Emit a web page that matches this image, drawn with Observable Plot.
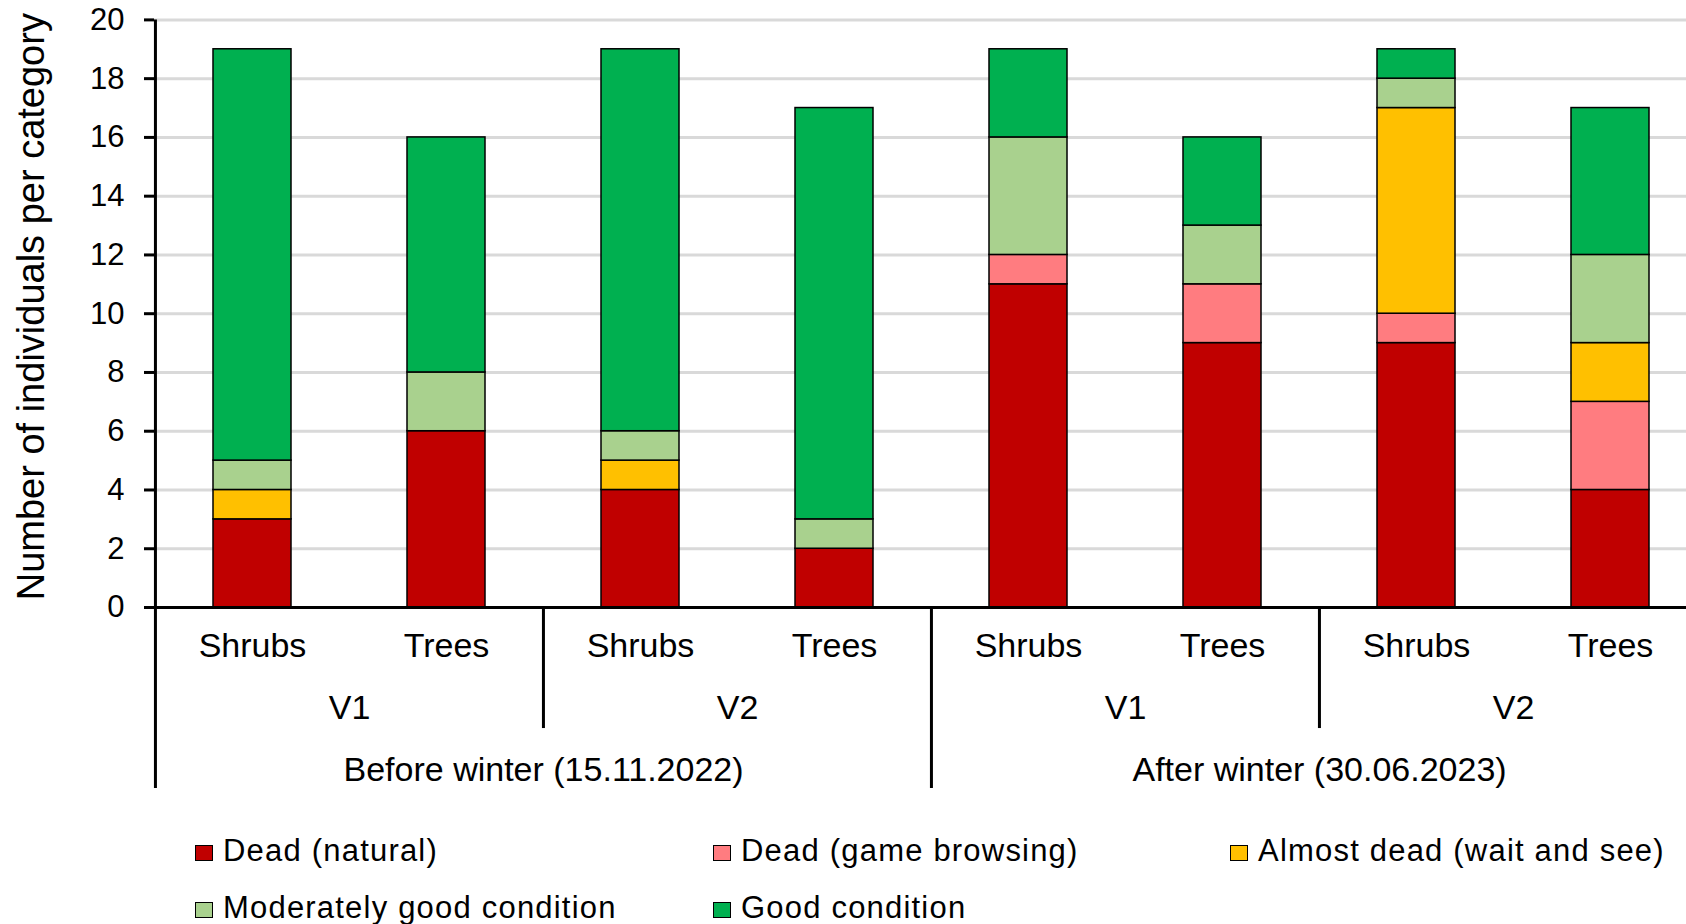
<!DOCTYPE html>
<html>
<head>
<meta charset="utf-8">
<script src="https://cdn.jsdelivr.net/npm/d3@7"></script>
<script src="https://cdn.jsdelivr.net/npm/@observablehq/plot@0.6"></script>
<style>
  html, body { margin: 0; padding: 0; background: white; }
  body { width: 1686px; height: 924px; overflow: hidden; font-family: "Liberation Sans", Arial, sans-serif; }
  #legend { display: grid; grid-template-columns: 518px 517px auto; margin-left: 195px; padding-top: 3px; font-size: 31px; letter-spacing: 1.2px; line-height: 57px; color: black; }
  #legend .sw { display: inline-block; width: 16px; height: 14px; border: 1px solid black; margin-right: 10px; }
  #legend .item { white-space: nowrap; }
</style>
</head>
<body>
<div id="chart"></div>
<div id="legend"></div>
<script>
// ---- data ----
const periods = ["Before winter (15.11.2022)", "After winter (30.06.2023)"];
const variants = ["V1", "V2"];
const plantTypes = ["Shrubs", "Trees"];
const conditions = ["Dead (natural)", "Dead (game browsing)", "Almost dead (wait and see)", "Moderately good condition", "Good condition"];
const conditionColors = ["#C00000", "#FF7C80", "#FFC000", "#A9D18E", "#00B050"];
// bar order: Before V1 Shrubs, Before V1 Trees, Before V2 Shrubs, Before V2 Trees, After V1 Shrubs, After V1 Trees, After V2 Shrubs, After V2 Trees
const deadNatural    = [3, 6, 4, 2, 11, 9, 9, 4];
const deadBrowsing   = [0, 0, 0, 0, 1, 2, 1, 3];
const almostDead     = [1, 0, 1, 0, 0, 0, 7, 2];
const moderatelyGood = [1, 2, 1, 1, 4, 2, 1, 3];
const goodCondition  = [14, 8, 13, 14, 3, 3, 1, 5];
const yTicks = [0, 2, 4, 6, 8, 10, 12, 14, 16, 18, 20];
const yTitle = "Number of individuals per category";

// ---- build tables ----
const series = [deadNatural, deadBrowsing, almostDead, moderatelyGood, goodCondition];
const barsMeta = [];
for (const p of periods) for (const v of variants) for (const t of plantTypes)
  barsMeta.push({id: `${p}|${v}|${t}`, period: p, variant: v, type: t});
const ids = barsMeta.map(d => d.id);
const rows = [];
conditions.forEach((c, ci) => {
  barsMeta.forEach((b, bi) => {
    const value = series[ci][bi];
    if (value > 0) rows.push({id: b.id, condition: c, value});
  });
});
const variantMeta = [];
for (const p of periods) for (const v of variants) variantMeta.push({id: `${p}|${v}|Shrubs`, label: v});
const periodMeta = periods.map(p => ({id: `${p}|V1|Trees`, label: p}));
const dividers = [
  {id: ids[0], top: 20, bottom: -6.16},
  {id: ids[2], top: 0, bottom: -4.12},
  {id: ids[4], top: 0, bottom: -6.16},
  {id: ids[6], top: 0, bottom: -4.12}
];

// ---- layout ----
const W = 1686, H = 819;
const xRange = [154, 1707];
const yTop = 19.4, yBottom = 607;
const step = (xRange[1] - xRange[0]) / ids.length;

const plot = Plot.plot({
  width: W,
  height: H,
  marginLeft: xRange[0],
  marginRight: 0,
  marginTop: yTop,
  marginBottom: H - yBottom,
  x: {domain: ids, range: xRange, paddingInner: 0.6, paddingOuter: 0.3, axis: null},
  y: {domain: [0, 20], range: [yBottom, yTop]},
  color: {domain: conditions, range: conditionColors},
  style: {fontFamily: "'Liberation Sans', Arial, sans-serif", fontSize: "30px", background: "white", color: "black"},
  marks: [
    Plot.gridY(yTicks.filter(d => d > 0), {stroke: "#d9d9d9", strokeOpacity: 1, strokeWidth: 3}),
    Plot.barY(rows, {x: "id", y: "value", fill: "condition", stroke: "black", strokeWidth: 1.5, order: conditions}),
    Plot.ruleY([0], {stroke: "black", strokeWidth: 3}),
    Plot.ruleX(dividers, {x: "id", y1: "top", y2: "bottom", dx: -step / 2, stroke: "black", strokeWidth: 3}),
    Plot.axisY({ticks: yTicks, tickSize: 10, tickPadding: 20, fontSize: 31, stroke: "black", strokeWidth: 3, label: null, tickFormat: d => String(d)}),
    Plot.text(barsMeta, {x: "id", text: "type", frameAnchor: "bottom", lineAnchor: "middle", dy: 39, fontSize: 34}),
    Plot.text(variantMeta, {x: "id", text: "label", frameAnchor: "bottom", lineAnchor: "middle", dx: step / 2, dy: 101, fontSize: 34}),
    Plot.text(periodMeta, {x: "id", text: "label", frameAnchor: "bottom", lineAnchor: "middle", dx: step / 2, dy: 163, fontSize: 34}),
    Plot.text([yTitle], {text: d => d, frameAnchor: "left", textAnchor: "middle", lineAnchor: "middle", rotate: -90, dx: -123, dy: -7, fontSize: 38})
  ]
});
document.getElementById("chart").appendChild(plot);

// ---- legend ----
const legend = d3.select("#legend");
conditions.forEach((c, i) => {
  const item = legend.append("div").attr("class", "item");
  item.append("span").attr("class", "sw").style("background", conditionColors[i]);
  item.append("span").text(c);
});
</script>
</body>
</html>
